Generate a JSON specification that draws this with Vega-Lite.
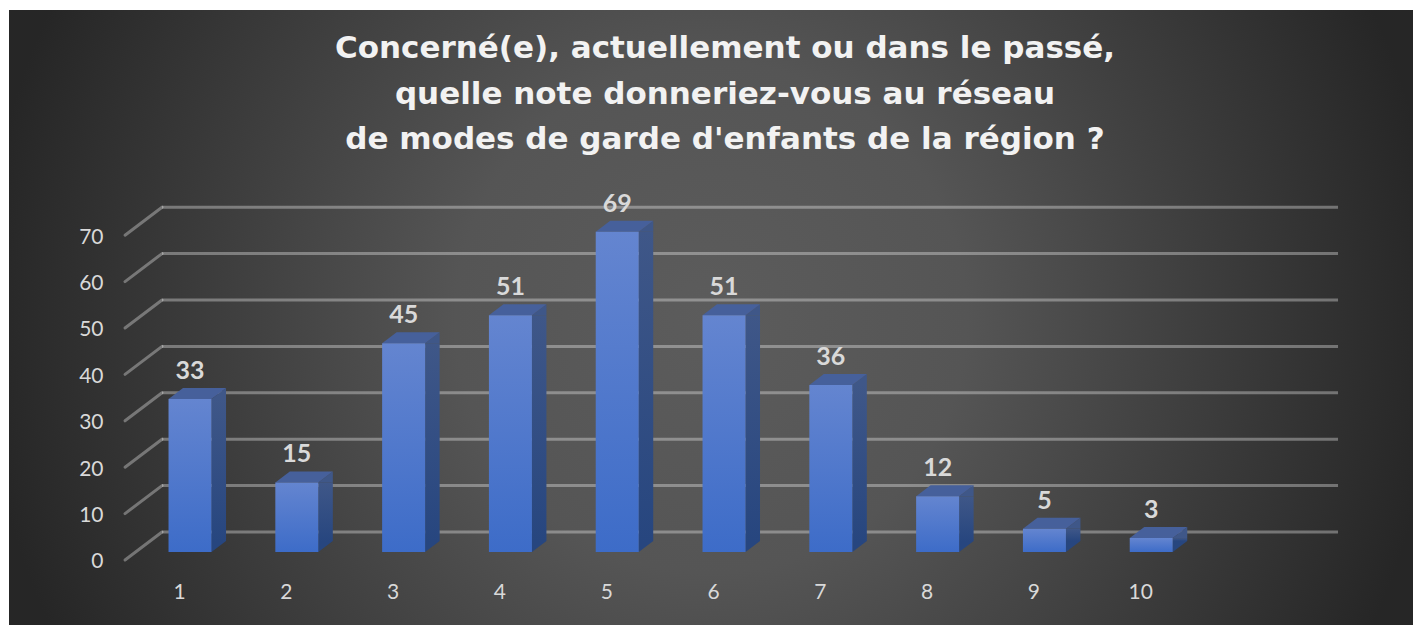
{
"$schema":"https://vega.github.io/schema/vega-lite/v6.json",
"autosize":"none",
"width":1404,"height":615,
"padding":{"left":9,"top":10,"right":0,"bottom":0},
"background":"#ffffff",
"title":{"text":["Concerné(e), actuellement ou dans le passé,","quelle note donneriez-vous au réseau","de modes de garde d'enfants de la région ?"],"anchor":"middle","dx":14,"offset":-146,"font":"DejaVu Sans","fontSize":31,"fontWeight":"bold","color":"#f2f2f2","lineHeight":45.5},
"config":{"view":{"stroke":null,"fill":{"gradient":"radial","x1":0.5,"y1":0.5,"x2":0.5,"y2":0.5,"r1":0,"r2":0.52,"stops":[{"offset":0,"color":"#5c5c5c"},{"offset":0.35,"color":"#555555"},{"offset":1,"color":"#262626"}]}}},
"datasets":{
"notes":[{"note":1,"n":33},{"note":2,"n":15},{"note":3,"n":45},{"note":4,"n":51},{"note":5,"n":69},{"note":6,"n":51},{"note":7,"n":36},{"note":8,"n":12},{"note":9,"n":5},{"note":10,"n":3}],
"grille":[{"g":0},{"g":10},{"g":20},{"g":30},{"g":40},{"g":50},{"g":60},{"g":70}]
},
"layer":[
{"data":{"name":"grille"},
 "mark":{"type":"rule","color":"#ffffff","opacity":0.33,"strokeWidth":3,"yOffset":-20,"y2Offset":-20},
 "encoding":{
  "x":{"datum":0.8408,"type":"quantitative","scale":{"domain":[-0.592,12.554],"nice":false,"zero":false},
    "axis":{"values":[1,2,3,4,5,6,7,8,9,10],"title":null,"grid":false,"domain":false,"ticks":false,"offset":-44,"labelPadding":0,"labelFont":"Lato","labelFontSize":21,"labelColor":"#d9d9d9","labelFlush":false,"format":"d"}},
  "x2":{"datum":11.852},
  "y":{"field":"g","type":"quantitative","scale":{"domain":[-15.733,116.81],"nice":false,"zero":false},
    "axis":{"values":[0,10,20,30,40,50,60,70],"title":null,"grid":false,"domain":false,"ticks":false,"offset":-94,"labelPadding":0,"labelOffset":10,"labelFont":"Lato","labelFontSize":21,"labelColor":"#d9d9d9","format":"d"}}
 }},
{"data":{"name":"grille"},
 "mark":{"type":"rule","color":"#ffffff","opacity":0.33,"strokeWidth":3,"xOffset":-37,"yOffset":8,"y2Offset":-20,"strokeCap":"round"},
 "encoding":{"x":{"datum":0.8408,"type":"quantitative"},"x2":{"datum":0.8408},"y":{"field":"g","type":"quantitative"},"y2":{"field":"g"}}},
{"data":{"name":"notes"},
 "layer":[
 {"mark":{"type":"rect","xOffset":32.5,"x2Offset":47,"yOffset":0,"y2Offset":-11,
   "color":{"gradient":"linear","x1":0,"y1":0,"x2":0,"y2":1,"stops":[{"offset":0,"color":"#3f5788"},{"offset":1,"color":"#27467f"}]}},
  "encoding":{"x":{"field":"note","type":"quantitative"},"x2":{"field":"note"},"y":{"field":"n","type":"quantitative"},"y2":{"datum":0}}},
 {"mark":{"type":"point","filled":true,"opacity":1,"size":4,"xOffset":11,"color":"#27467f","shape":"M21.5,0 L36,-11 L21.5,-11 Z"},
  "encoding":{"x":{"field":"note","type":"quantitative"},"y":{"datum":0,"type":"quantitative"}}},
 {"mark":{"type":"point","filled":true,"opacity":1,"size":4,"xOffset":11,"color":"#3f5788","shape":"M21.5,0 L36,-11 L36,0 Z"},
  "encoding":{"x":{"field":"note","type":"quantitative"},"y":{"field":"n","type":"quantitative"}}},
 {"mark":{"type":"point","filled":true,"opacity":1,"size":4,"xOffset":11,"color":"#46609b","shape":"M-21.5,0 L21.5,0 L36,-11 L-7,-11 Z"},
  "encoding":{"x":{"field":"note","type":"quantitative"},"y":{"field":"n","type":"quantitative"}}},
 {"mark":{"type":"rect","xOffset":-10.5,"x2Offset":32.5,
   "color":{"gradient":"linear","x1":0,"y1":0,"x2":0,"y2":1,"stops":[{"offset":0,"color":"#6485d0"},{"offset":1,"color":"#3d6cc8"}]}},
  "encoding":{"x":{"field":"note","type":"quantitative"},"x2":{"field":"note"},"y":{"field":"n","type":"quantitative"},"y2":{"datum":0}}},
 {"mark":{"type":"text","font":"Lato","fontWeight":"bold","fontSize":25,"color":"#d9d9d9","dx":11,"dy":-28,"baseline":"middle","align":"center"},
  "encoding":{"x":{"field":"note","type":"quantitative"},"y":{"field":"n","type":"quantitative"},"text":{"field":"n","type":"quantitative"}}}
 ]}
]
}
